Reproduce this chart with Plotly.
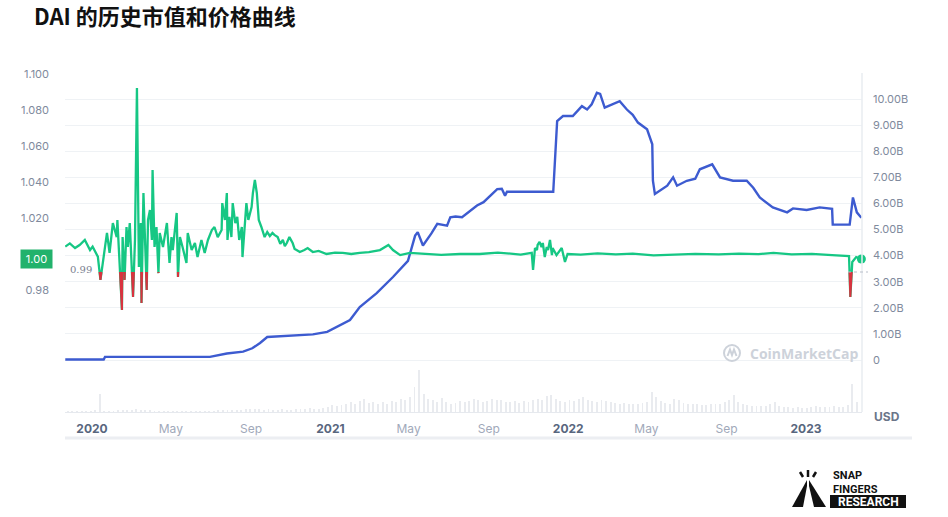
import numpy as np
import pandas as pd
import plotly.graph_objects as go

# ---------------- data ----------------
price_dates = [
    "2019-11-21", "2019-11-28", "2019-12-06", "2019-12-13", "2019-12-21", "2019-12-29",
    "2020-01-02", "2020-01-10", "2020-01-14", "2020-01-18", "2020-01-24", "2020-01-28",
    "2020-02-02", "2020-02-08", "2020-02-09", "2020-02-16", "2020-02-17", "2020-02-20",
    "2020-02-23", "2020-02-25", "2020-02-28", "2020-03-04", "2020-03-07", "2020-03-10",
    "2020-03-13", "2020-03-16", "2020-03-17", "2020-03-20", "2020-03-22", "2020-03-25",
    "2020-03-27", "2020-03-30", "2020-04-02", "2020-04-03", "2020-04-06", "2020-04-09",
    "2020-04-12", "2020-04-14", "2020-04-19", "2020-04-25", "2020-04-29", "2020-05-02",
    "2020-05-04", "2020-05-10", "2020-05-12", "2020-05-15", "2020-05-19", "2020-05-25",
    "2020-05-27", "2020-06-02", "2020-06-07", "2020-06-11", "2020-06-17", "2020-06-22",
    "2020-06-27", "2020-07-03", "2020-07-07", "2020-07-12", "2020-07-18", "2020-07-19",
    "2020-07-23", "2020-07-26", "2020-07-27", "2020-07-30", "2020-08-02", "2020-08-04",
    "2020-08-08", "2020-08-11", "2020-08-14", "2020-08-18", "2020-08-19", "2020-08-22",
    "2020-08-25", "2020-08-28", "2020-09-02", "2020-09-04", "2020-09-07", "2020-09-10",
    "2020-09-13", "2020-09-17", "2020-09-22", "2020-09-26", "2020-09-30", "2020-10-04",
    "2020-10-07", "2020-10-12", "2020-10-16", "2020-10-20", "2020-10-23", "2020-10-26",
    "2020-10-30", "2020-11-04", "2020-11-07", "2020-11-10", "2020-11-15", "2020-11-22",
    "2020-11-27", "2020-12-05", "2020-12-14", "2020-12-26", "2021-01-08", "2021-01-20",
    "2021-02-02", "2021-02-15", "2021-03-01", "2021-03-18", "2021-03-26", "2021-03-31",
    "2021-04-07", "2021-04-18", "2021-05-03", "2021-05-29", "2021-06-20", "2021-07-19",
    "2021-08-18", "2021-09-15", "2021-10-20", "2021-11-06",
    "2021-11-08", "2021-11-11", "2021-11-14", "2021-11-15", "2021-11-18", "2021-11-21",
    "2021-11-23", "2021-11-26", "2021-11-29", "2021-12-01", "2021-12-04", "2021-12-07",
    "2021-12-08", "2021-12-14", "2021-12-19", "2021-12-22", "2021-12-27", "2021-12-31",
    "2022-01-20", "2022-02-15", "2022-03-15", "2022-04-10", "2022-05-12", "2022-06-15",
    "2022-07-15", "2022-08-20", "2022-09-20", "2022-10-20", "2022-11-12", "2022-12-10",
    "2023-01-10", "2023-02-10", "2023-03-08", "2023-03-10", "2023-03-13", "2023-03-19",
    "2023-03-27",
]
price_usd = [
    1.0041, 1.0059, 1.0033, 1.0050, 1.0078, 1.0022,
    1.0041, 0.9985, 0.9856, 0.9967, 1.0117, 1.0006,
    1.0172, 1.0094, 1.0189, 0.9689, 1.0094, 0.9856,
    1.0150, 1.0039, 1.0172, 0.9761, 1.0078, 1.0922,
    0.9928, 1.0172, 0.9728, 1.0339, 1.0094, 0.9800,
    1.0189, 1.0244, 1.0078, 1.0467, 1.0039, 1.0150,
    0.9894, 1.0117, 1.0039, 1.0172, 0.9950, 1.0094,
    1.0022, 1.0228, 0.9872, 1.0094, 1.0039, 0.9950,
    1.0117, 1.0022, 1.0061, 0.9983, 1.0078, 1.0006,
    1.0078, 1.0133, 1.0150, 1.0094, 1.0133, 1.0283,
    1.0189, 1.0339, 1.0078, 1.0206, 1.0094, 1.0283,
    1.0172, 1.0206, 1.0078, 1.0150, 0.9983, 1.0133,
    1.0283, 1.0189, 1.0261, 1.0339, 1.0411, 1.0339,
    1.0189, 1.0150, 1.0094, 1.0122, 1.0100, 1.0117,
    1.0106, 1.0094, 1.0056, 1.0078, 1.0044, 1.0061,
    1.0094, 1.0061, 1.0028, 1.0022, 1.0011, 1.0022,
    1.0033, 1.0011, 1.0017, 1.0000, 1.0008, 1.0006,
    1.0000, 1.0006, 1.0011, 1.0022, 1.0039, 1.0050,
    1.0022, 0.9994, 1.0006, 1.0000, 0.9995, 1.0000,
    1.0000, 1.0008, 0.9997, 1.0006,
    0.9911, 1.0033, 1.0022, 1.0050, 1.0067, 1.0039,
    1.0061, 0.9983, 1.0039, 1.0022, 1.0078, 0.9994,
    1.0033, 0.9994, 1.0022, 1.0033, 0.9956, 1.0000,
    0.9997, 1.0003, 0.9998, 1.0002, 0.9992, 0.9996,
    1.0001, 0.9998, 1.0002, 0.9999, 1.0006, 0.9998,
    1.0001, 0.9994, 0.9989, 0.9761, 0.9956, 0.9983,
    0.9972,
]

mcap_dates = [
    "2019-11-21", "2020-01-19", "2020-01-21", "2020-03-30", "2020-06-30", "2020-07-26",
    "2020-08-20", "2020-09-03", "2020-09-15", "2020-09-26", "2020-10-15", "2020-11-05",
    "2020-12-05", "2020-12-27", "2021-01-11",
    "2021-01-31", "2021-02-15", "2021-03-13", "2021-04-07", "2021-04-18", "2021-04-30",
    "2021-05-11", "2021-05-15", "2021-05-23", "2021-06-05", "2021-06-14", "2021-06-29",
    "2021-07-04", "2021-07-12", "2021-07-22", "2021-07-30", "2021-08-14", "2021-08-24",
    "2021-09-03", "2021-09-14", "2021-09-21", "2021-09-26",
    "2021-09-29", "2021-12-09", "2021-12-15", "2021-12-24", "2022-01-08", "2022-01-22",
    "2022-01-30", "2022-02-06", "2022-02-14", "2022-02-19", "2022-02-26", "2022-03-11",
    "2022-03-21", "2022-04-01", "2022-04-10", "2022-04-18", "2022-05-02", "2022-05-10",
    "2022-05-11", "2022-05-14", "2022-06-02", "2022-06-11", "2022-06-17", "2022-07-02",
    "2022-07-15", "2022-07-22", "2022-08-10", "2022-08-22", "2022-09-11", "2022-10-02",
    "2022-10-12", "2022-10-22", "2022-11-11", "2022-12-03", "2022-12-12", "2023-01-02",
    "2023-01-22", "2023-02-10", "2023-02-11", "2023-03-09", "2023-03-14", "2023-03-20",
    "2023-03-27",
]
mcap_billion = [
    0.02, 0.02, 0.12, 0.11, 0.12, 0.25,
    0.32, 0.45, 0.65, 0.88, 0.90, 0.92,
    0.98, 1.08, 1.27,
    1.53, 2.03, 2.56, 3.18, 3.47, 3.80,
    4.77, 4.90, 4.39, 4.85, 5.22, 5.15,
    5.47, 5.50, 5.47, 5.62, 5.92, 6.05,
    6.30, 6.55, 6.56, 6.30,
    6.45, 6.45, 9.16, 9.35, 9.35, 9.73,
    9.60, 9.80, 10.24, 10.20, 9.67, 9.80,
    9.92, 9.60, 9.40, 9.10, 8.84, 8.27,
    6.87, 6.36, 6.68, 7.00, 6.68, 6.87,
    6.95, 7.31, 7.50, 7.00, 6.87, 6.87,
    6.60, 6.23, 5.85, 5.66, 5.81, 5.75,
    5.85, 5.79, 5.19, 5.19, 6.23, 5.66,
    5.45,
]

# weekly trading volume (billion USD), weeks starting 2019-11-25
volume_start = "2019-11-25"
volume_billion = [
    0.02, 0.03, 0.02, 0.02, 0.03, 0.02,
    0.05, 0.85, 0.04, 0.03, 0.04, 0.05, 0.06, 0.05, 0.06, 0.12, 0.10, 0.06, 0.05,
    0.04, 0.04, 0.03, 0.04, 0.03, 0.04, 0.03, 0.03, 0.03, 0.04, 0.03, 0.04, 0.04,
    0.04, 0.05, 0.06, 0.07, 0.08, 0.10, 0.09, 0.12, 0.15, 0.12, 0.14, 0.10, 0.12,
    0.10, 0.09, 0.12, 0.11, 0.10, 0.13, 0.12, 0.15, 0.18, 0.14, 0.16, 0.20, 0.22,
    0.35, 0.28, 0.32, 0.40, 0.45, 0.38, 0.52, 0.60, 0.42, 0.48, 0.36, 0.45, 0.40,
    0.50, 0.46, 0.62, 0.55, 0.70, 1.20, 2.00, 0.85, 0.60, 0.55, 0.48, 0.66, 0.45,
    0.40, 0.42, 0.50, 0.46, 0.52, 0.60, 0.55, 0.48, 0.50, 0.62, 0.55, 0.58, 0.45,
    0.48, 0.52, 0.44, 0.50, 0.46, 0.55, 0.62, 0.58, 0.75, 0.80, 0.60, 0.52, 0.45,
    0.55, 0.50, 0.62, 0.72, 0.58, 0.50, 0.48, 0.55, 0.52, 0.45, 0.42, 0.40, 0.44,
    0.38, 0.40, 0.36, 0.42, 0.45, 0.95, 0.70, 0.50, 0.42, 0.40, 0.62, 0.55, 0.42,
    0.36, 0.38, 0.40, 0.35, 0.34, 0.40, 0.38, 0.36, 0.45, 0.55, 0.80, 0.48, 0.40,
    0.32, 0.30, 0.28, 0.30, 0.26, 0.40, 0.45, 0.30, 0.25, 0.22, 0.20, 0.24, 0.18,
    0.20, 0.24, 0.28, 0.25, 0.22, 0.24, 0.26, 0.22, 0.25, 0.35, 1.30, 0.45,
]

x_tick_dates = ["2020-01-01", "2020-05-01", "2020-09-01", "2021-01-01", "2021-05-01",
                "2021-09-01", "2022-01-01", "2022-05-01", "2022-09-01", "2023-01-01"]
x_tick_labels = ["2020", "May", "Sep", "2021", "May", "Sep", "2022", "May", "Sep", "2023"]

price_ticks = [0.98, 1.02, 1.04, 1.06, 1.08, 1.10]
price_tick_labels = ["0.98", "1.020", "1.040", "1.060", "1.080", "1.100"]
mcap_ticks = list(range(0, 12))
mcap_tick_labels = ["0", "1.00B", "2.00B", "3.00B", "4.00B", "5.00B", "6.00B",
                    "7.00B", "8.00B", "9.00B", "10.00B", ""]

baseline_price = 0.99
current_price_label = "1.00"

# ---------------- styling ----------------
GREEN = "#16c784"
RED = "#d8333f"
BLUE = "#3d5bd0"
GRID = "#eff2f5"
TICK = "#808a9d"

W, H = 948, 517
PL, PR, PT, PB = 65, 862, 73, 412   # plot area in pixels


def px_x(px):
    return (px - PL) / (PR - PL)


def px_y(py):
    return (PB - py) / (PB - PT)


# ---------------- derived geometry ----------------
p_dt = pd.to_datetime(price_dates)
p_val = np.array(price_usd)
p_ns = p_dt.astype("int64").to_numpy().astype(float)


def below_baseline(ts, vals, base):
    """Polygons of the parts of the price line that fall below the baseline."""
    xs, ys = [], []
    n = len(vals)
    i = 0
    while i < n:
        if vals[i] < base:
            if i > 0:
                f = (vals[i - 1] - base) / (vals[i - 1] - vals[i])
                xs.append(ts[i - 1] + f * (ts[i] - ts[i - 1]))
                ys.append(base)
            j = i
            while j < n and vals[j] < base:
                xs.append(ts[j])
                ys.append(vals[j])
                j += 1
            if j < n:
                f = (base - vals[j - 1]) / (vals[j] - vals[j - 1])
                xs.append(ts[j - 1] + f * (ts[j] - ts[j - 1]))
                ys.append(base)
            xs.append(None)
            ys.append(None)
            i = j
        else:
            i += 1
    xs = [pd.Timestamp(int(v)) if v is not None else None for v in xs]
    return xs, ys


red_x, red_y = below_baseline(p_ns, p_val, baseline_price)

vol_dates = pd.date_range(volume_start, periods=len(volume_billion), freq="7D")

# axis ranges
x_range = ["2019-11-20 14:00", "2023-03-27 22:00"]
price_scale = 1800.0          # pixels per USD
price_range = [1.0 - (PB - 254) / price_scale, 1.0 + (254 - PT) / price_scale]
mcap_range = [-(PB - 360) / ((360 - PT) / 11.0), 11.0]

# ---------------- figure ----------------
fig = go.Figure()

fig.add_trace(go.Bar(
    x=vol_dates, y=volume_billion, yaxis="y2",
    marker=dict(color="#e9ebef", line=dict(width=0)),
    width=1.4 * 86400000, hoverinfo="skip",
))

fig.add_trace(go.Scatter(
    x=pd.to_datetime(mcap_dates), y=mcap_billion, yaxis="y",
    mode="lines", line=dict(color=BLUE, width=2.4), hoverinfo="skip",
))

fig.add_trace(go.Scatter(
    x=p_dt, y=p_val, yaxis="y3", mode="lines",
    line=dict(color=GREEN, width=2.3), hoverinfo="skip",
))

fig.add_trace(go.Scatter(
    x=red_x, y=red_y, yaxis="y3", mode="lines",
    line=dict(color=RED, width=2), fill="toself", fillcolor=RED,
    connectgaps=False, hoverinfo="skip",
))

fig.add_trace(go.Scatter(
    x=[p_dt[-1]], y=[p_val[-1]], yaxis="y3", mode="markers",
    marker=dict(color=GREEN, size=9), hoverinfo="skip", cliponaxis=False,
))

x_text = []
for lab in x_tick_labels:
    if lab.isdigit():
        x_text.append(f"<span style='color:#58667e'><b>{lab}</b></span>")
    else:
        x_text.append(lab)

fig.update_layout(
    width=W, height=H,
    margin=dict(l=PL, r=W - PR, t=PT, b=H - PB),
    paper_bgcolor="white", plot_bgcolor="white",
    showlegend=False,
    font=dict(family="Inter, Roboto, sans-serif", color=TICK),
    bargap=0,
    xaxis=dict(
        type="date", range=x_range, tickvals=x_tick_dates, ticktext=x_text,
        showgrid=False, zeroline=False, showline=True, linecolor="#e6e9ee",
        linewidth=1, ticks="", tickfont=dict(size=12, color="#a1a9ba"),
        ticklabelstandoff=6,
    ),
    yaxis=dict(
        side="right", range=mcap_range, tickvals=mcap_ticks,
        ticktext=mcap_tick_labels, showgrid=True, gridcolor=GRID, gridwidth=1,
        zeroline=False, showline=False, ticks="",
        tickfont=dict(size=11, color=TICK), ticklabelstandoff=10,
    ),
    yaxis2=dict(
        overlaying="y", range=[0, 16], visible=False, showgrid=False,
    ),
    yaxis3=dict(
        overlaying="y", side="left", range=price_range, tickvals=price_ticks,
        ticktext=price_tick_labels, showgrid=False, zeroline=False,
        showline=False, ticks="", tickfont=dict(size=11, color=TICK),
        ticklabelstandoff=15,
    ),
)

shapes = []
# right border of the plot
shapes.append(dict(type="line", xref="paper", yref="paper", x0=1.0, x1=1.0,
                   y0=0, y1=1, line=dict(color="#e9ecf0", width=1.5)))
# band under the date labels
shapes.append(dict(type="line", xref="paper", yref="paper",
                   x0=px_x(65), x1=px_x(912), y0=px_y(438), y1=px_y(438),
                   line=dict(color="#eceef2", width=3)))
# dotted baseline next to the latest value
shapes.append(dict(type="line", xref="paper", yref="y3",
                   x0=px_x(848), x1=px_x(868), y0=baseline_price, y1=baseline_price,
                   line=dict(color="#b8bec9", width=1, dash="dot")))
# CoinMarketCap watermark mark
shapes.append(dict(type="circle", xref="paper", yref="paper",
                   x0=px_x(724), x1=px_x(740), y0=px_y(361), y1=px_y(345),
                   line=dict(color="#cdd2da", width=2)))
shapes.append(dict(type="path", xref="paper", yref="paper",
                   path=(f"M {px_x(727.5)},{px_y(356)} L {px_x(730)},{px_y(349.5)} "
                         f"L {px_x(732)},{px_y(355)} L {px_x(734)},{px_y(349.5)} "
                         f"L {px_x(736.5)},{px_y(356)}"),
                   line=dict(color="#cdd2da", width=2)))
# SNAP FINGERS RESEARCH mark
shapes.append(dict(type="path", xref="paper", yref="paper", fillcolor="#111111",
                   line=dict(width=0),
                   path=(f"M {px_x(792)},{px_y(507)} L {px_x(807)},{px_y(480)} "
                         f"L {px_x(807)},{px_y(486)} L {px_x(803)},{px_y(507)} Z")))
shapes.append(dict(type="path", xref="paper", yref="paper", fillcolor="#111111",
                   line=dict(width=0),
                   path=(f"M {px_x(809)},{px_y(480)} L {px_x(826)},{px_y(507)} "
                         f"L {px_x(814)},{px_y(507)} L {px_x(809)},{px_y(486)} Z")))
for (a, b, c, d) in [(800, 472, 803, 477), (808, 470, 808, 477), (816, 472, 813, 477)]:
    shapes.append(dict(type="line", xref="paper", yref="paper",
                       x0=px_x(a), y0=px_y(b), x1=px_x(c), y1=px_y(d),
                       line=dict(color="#111111", width=2.5)))
shapes.append(dict(type="rect", xref="paper", yref="paper",
                   x0=px_x(830), x1=px_x(906), y0=px_y(508), y1=px_y(495),
                   fillcolor="#111111", line=dict(width=0)))
fig.update_layout(shapes=shapes)

annotations = [
    dict(text="<b>DAI 的历史市值和价格曲线</b>", xref="paper", yref="paper",
         x=px_x(32), y=px_y(15), xanchor="left", yanchor="middle",
         showarrow=False,
         font=dict(family="Noto Sans CJK SC, Noto Sans, sans-serif", size=22,
                   color="#111111")),
    dict(text=current_price_label, xref="paper", yref="y3",
         x=px_x(53), y=0.9972, xanchor="right", yanchor="middle",
         showarrow=False, bgcolor="#22b26c", borderpad=2,
         font=dict(size=11, color="white"), width=27),
    dict(text="0.99", xref="paper", yref="y3", x=px_x(68), y=0.9912,
         xanchor="left", yanchor="middle", showarrow=False,
         font=dict(family="DejaVu Serif, serif", size=10, color="#7a8090")),
    dict(text="<b>USD</b>", xref="paper", yref="paper", x=px_x(887), y=px_y(416),
         xanchor="center", yanchor="middle", showarrow=False,
         font=dict(size=12, color="#6b7589")),
    dict(text="<b>CoinMarketCap</b>", xref="paper", yref="paper",
         x=px_x(748), y=px_y(353), xanchor="left", yanchor="middle",
         showarrow=False,
         font=dict(family="Open Sans, sans-serif", size=14, color="#cdd2da")),
    dict(text="<b>SNAP<br>FINGERS</b>", xref="paper", yref="paper",
         x=px_x(831), y=px_y(482.5), xanchor="left", yanchor="middle",
         align="left", showarrow=False,
         font=dict(family="Roboto, sans-serif", size=11, color="#111111")),
    dict(text="<b>RESEARCH</b>", xref="paper", yref="paper", x=px_x(868), y=px_y(501.5),
         xanchor="center", yanchor="middle", showarrow=False,
         font=dict(family="Roboto, sans-serif", size=12, color="white")),
]
fig.update_layout(annotations=annotations)

fig.write_html("out.html")
